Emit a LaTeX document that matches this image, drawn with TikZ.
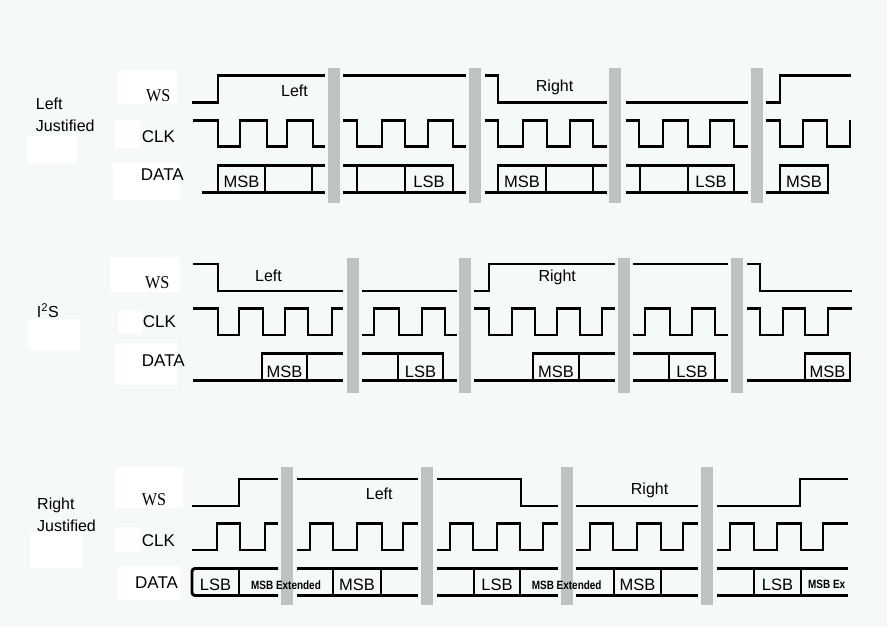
\documentclass[tikz,border=0pt]{standalone}
\usepackage{fontspec}
\setmainfont{Liberation Sans}
\newfontfamily\wsfont{Liberation Serif}

\definecolor{bgcol}{RGB}{245,249,247}
\definecolor{barcol}{RGB}{190,194,192}

\tikzset{
  sig/.style={line width=2.9pt},
  bar/.style={fill=barcol},
  patch/.style={fill=white},
  rowlbl/.style={anchor=base west, inner sep=0pt, font=\fontsize{17}{20}\selectfont},
  wslbl/.style={anchor=base west, inner sep=0pt, font=\wsfont\fontsize{18}{20}\selectfont},
  chlbl/.style={anchor=base west, inner sep=0pt, font=\fontsize{16}{19}\selectfont},
  modelbl/.style={anchor=base west, inner sep=0pt, align=left, font=\fontsize{16}{22.5}\selectfont},
  bitlbl/.style={anchor=base, inner sep=0pt, font=\fontsize{16.5}{19}\selectfont},
  extlbl/.style={anchor=base, inner sep=0pt, font=\bfseries\fontsize{12}{14}\selectfont},
}

\begin{document}
\begin{tikzpicture}[x=1pt, y=-1pt]
  \def\wsH{0}     % levels, relative to the top of each panel
  \def\wsL{27}
  \def\clkH{44.5}
  \def\clkL{71}
  \def\datT{89.5}
  \def\datB{116.5}

  \fill[bgcol] (0,0) rectangle (887,627);
  \useasboundingbox (0,0) rectangle (887,627);

  % white patches behind the labels
  \foreach \x/\y/\w/\h in {117/70/60/34, 115/120/25/28, 113/163/67/37, 27/136/50/27,
                           110/257/70/35, 118/310/24/23, 115/343/62/42, 28/319/52/31,
                           115/467/68/41, 115/527/25/25, 117/566/63/34, 30/532/53/36}
    \fill[patch] (\x,\y) rectangle ++(\w,\h);

  % row labels
  \foreach \p/\off/\wx/\cx/\dx/\wy/\cy/\dy in {a/75.7/146/141.7/140.7/25.3/66.6/104.3,
                                               b/264/145/142.7/141.7/24.3/63.7/102.7,
                                               c/479/141.7/141.7/135/26.7/67/109.3} {
    \node[wslbl] (ws-\p) at (\wx,\off+\wy) {\scalebox{.9}[1]{WS}};
    \node[rowlbl] (clk-\p) at (\cx,\off+\cy) {CLK};
    \node[rowlbl] (data-\p) at (\dx,\off+\dy) {DATA};
  }

  % base = last line
  \node[modelbl] (mode-a) at (35.7,131.7) {Left\\Justified};
  \node[modelbl] (mode-b) at (36.7,317.7) {I\textsuperscript{2}S};
  \node[modelbl] (mode-c) at (37,531.7) {Right\\Justified};

  % left justified
  \begin{scope}[shift={(0,75.7)}]
    \foreach \x in {328,469,609,751}
      \fill[bar] (\x,-7.7) rectangle ++(12,135);

    \draw[sig] (192,\wsL) -| (218,\wsH) -- (325,\wsH);
    \draw[sig] (343,\wsH) -- (466,\wsH);
    \draw[sig] (485,\wsH) -| (498,\wsL) -- (607,\wsL);
    \draw[sig] (626,\wsL) -- (748,\wsL);
    \draw[sig] (766,\wsL) -| (780,\wsH) -- (851,\wsH);

    \draw[sig] (193,\clkH) -| (218,\clkL) -| (240,\clkH) -| (267,\clkL) -| (287,\clkH) -| (313,\clkL) -- (325,\clkL);
    \draw[sig] (343,\clkH) -| (357,\clkL) -| (382,\clkH) -| (405,\clkL) -| (428,\clkH) -| (453,\clkL) -- (466,\clkL);
    \draw[sig] (485,\clkH) -| (498,\clkL) -| (523,\clkH) -| (547,\clkL) -| (570,\clkH) -| (593,\clkL) -- (607,\clkL);
    \draw[sig] (626,\clkH) -| (639,\clkL) -| (663,\clkH) -| (688,\clkL) -| (710,\clkH) -| (734,\clkL) -- (748,\clkL);
    \draw[sig] (766,\clkH) -| (780,\clkL) -| (803,\clkH) -| (827,\clkL) -| (850,\clkH);

    \draw[sig] (202,\datB) -- (325,\datB) (218,\datB) |- (325,\datT);
    \draw[sig] (343,\datT) -- (453,\datT) -- (453,\datB) (343,\datB) -- (466,\datB);
    \draw[sig] (485,\datB) -- (607,\datB) (498,\datB) |- (607,\datT);
    \draw[sig] (626,\datT) -- (734,\datT) -- (734,\datB) (626,\datB) -- (748,\datB);
    \draw[sig] (766,\datB) -- (828,\datB) -- (828,\datT) -- (780,\datT) -- (780,\datB);
    \foreach \x in {265,312,357,405,546,593,640,688}
      \draw[sig] (\x,\datT) -- (\x,\datB);

    \node[bitlbl] (a-msb1) at (241.5,111.3) {MSB};
    \node[bitlbl] (a-lsb1) at (429,111.3) {LSB};
    \node[bitlbl] (a-msb2) at (522,111.3) {MSB};
    \node[bitlbl] (a-lsb2) at (711,111.3) {LSB};
    \node[bitlbl] (a-msb3) at (804,111.3) {MSB};

    \node[chlbl] (a-left) at (281,21) {Left};
    \node[chlbl] (a-right) at (535.7,16) {Right};
  \end{scope}

  % i2s
  \begin{scope}[shift={(0,264)}]
    \foreach \x in {347,459,618,731}
      \fill[bar] (\x,-6) rectangle ++(12,135);

    \draw[sig] (193,\wsH) -| (218,\wsL) -- (343,\wsL);
    \draw[sig] (362,\wsL) -- (457,\wsL);
    \draw[sig] (474,\wsL) -| (489,\wsH) -- (615,\wsH);
    \draw[sig] (633,\wsH) -- (728,\wsH);
    \draw[sig] (747,\wsH) -| (760,\wsL) -- (852,\wsL);

    \draw[sig] (193,\clkH) -| (218,\clkL) -| (239,\clkH) -| (263,\clkL) -| (285,\clkH) -| (308,\clkL) -| (332,\clkH) -- (343,\clkH);
    \draw[sig] (362,\clkL) -| (374,\clkH) -| (399,\clkL) -| (422,\clkH) -| (445,\clkL) -- (457,\clkL);
    \draw[sig] (474,\clkH) -| (489,\clkL) -| (512,\clkH) -| (535,\clkL) -| (557,\clkH) -| (580,\clkL) -| (602,\clkH) -- (615,\clkH);
    \draw[sig] (633,\clkL) -| (645,\clkH) -| (670,\clkL) -| (692,\clkH) -| (715,\clkL) -- (728,\clkL);
    \draw[sig] (747,\clkH) -| (760,\clkL) -| (783,\clkH) -| (805,\clkL) -| (828,\clkH) -- (852,\clkH);

    \draw[sig] (193,\datB) -- (343,\datB) (262,\datB) |- (343,\datT);
    \draw[sig] (362,\datT) -- (443,\datT) -- (443,\datB) (362,\datB) -- (457,\datB);
    \draw[sig] (474,\datB) -- (615,\datB) (533,\datB) |- (615,\datT);
    \draw[sig] (633,\datT) -- (715,\datT) -- (715,\datB) (633,\datB) -- (728,\datB);
    \draw[sig] (747,\datB) -- (850,\datB) -- (850,\datT) -- (805,\datT) -- (805,\datB);
    \foreach \x in {307,398,579,669}
      \draw[sig] (\x,\datT) -- (\x,\datB);

    \node[bitlbl] (b-msb1) at (284.5,113) {MSB};
    \node[bitlbl] (b-lsb1) at (420.5,113) {LSB};
    \node[bitlbl] (b-msb2) at (556,113) {MSB};
    \node[bitlbl] (b-lsb2) at (692,113) {LSB};
    \node[bitlbl] (b-msb3) at (827.5,113) {MSB};

    \node[chlbl] (b-left) at (255,17.7) {Left};
    \node[chlbl] (b-right) at (538.3,17.7) {Right};
  \end{scope}

  % right justified
  \begin{scope}[shift={(0,479)}]
    \foreach \x in {281,421,561,701}
      \fill[bar] (\x,-12) rectangle ++(12,138);

    \draw[sig] (192,\wsL) -| (239,\wsH) -- (278,\wsH);
    \draw[sig] (297,\wsH) -- (418,\wsH);
    \draw[sig] (437,\wsH) -| (521,\wsL) -- (558,\wsL);
    \draw[sig] (576,\wsL) -- (698,\wsL);
    \draw[sig] (717,\wsL) -| (800,\wsH) -- (848,\wsH);

    \draw[sig] (192,\clkL) -| (217,\clkH) -| (240,\clkL) -| (265,\clkH) -- (278,\clkH);
    \draw[sig] (297,\clkL) -| (310,\clkH) -| (333,\clkL) -| (357,\clkH) -| (382,\clkL) -| (403,\clkH) -- (418,\clkH);
    \draw[sig] (437,\clkL) -| (450,\clkH) -| (473,\clkL) -| (497,\clkH) -| (520,\clkL) -| (543,\clkH) -- (558,\clkH);
    \draw[sig] (576,\clkL) -| (590,\clkH) -| (613,\clkL) -| (637,\clkH) -| (661,\clkL) -| (683,\clkH) -- (698,\clkH);
    \draw[sig] (717,\clkL) -| (730,\clkH) -| (754,\clkL) -| (777,\clkH) -| (801,\clkL) -| (823,\clkH) -- (848,\clkH);

    \draw[sig, rounded corners=3pt] (278,\datT) -- (192,\datT) -- (192,\datB) -- (278,\datB);
    \foreach \a/\b in {297/418, 437/558, 576/698, 717/848}
      \draw[sig] (\a,\datT) -- (\b,\datT) (\a,\datB) -- (\b,\datB);
    \foreach \x in {239,333,381,474,520,614,661,754,801}
      \draw[sig] (\x,\datT) -- (\x,\datB);

    \node[bitlbl] (c-lsb1) at (215.5,111) {LSB};
    \node[extlbl] (c-ext1) at (286,110.3) {\scalebox{.83}[1]{MSB Extended}};
    \node[bitlbl] (c-msb1) at (357,111) {MSB};
    \node[bitlbl] (c-lsb2) at (497,111) {LSB};
    \node[extlbl] (c-ext2) at (566.7,110.3) {\scalebox{.83}[1]{MSB Extended}};
    \node[bitlbl] (c-msb2) at (637.5,111) {MSB};
    \node[bitlbl] (c-lsb3) at (777.5,111) {LSB};
    \node[extlbl] (c-ext3) at (826.7,109.3) {\scalebox{.83}[1]{MSB Ex}};

    \node[chlbl] (c-left) at (365.7,20.3) {Left};
    \node[chlbl] (c-right) at (630.7,15.3) {Right};
  \end{scope}
\end{tikzpicture}
\end{document}
